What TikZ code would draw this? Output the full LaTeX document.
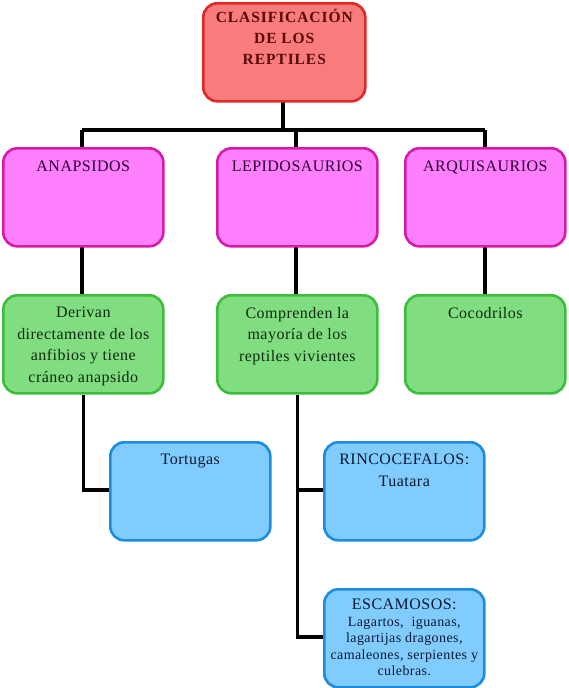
\documentclass[tikz,border=0pt]{standalone}
\usepackage{fontspec}
\setmainfont{Liberation Serif}[LetterSpace=3]
\usetikzlibrary{positioning, calc}
\definecolor{rojofondo}{HTML}{F87C7C}
\definecolor{rojoborde}{HTML}{E02828}
\definecolor{rojotexto}{HTML}{5A0808}
\definecolor{rosafondo}{HTML}{FF80FF}
\definecolor{rosaborde}{HTML}{D41CA8}
\definecolor{rosatexto}{HTML}{2A0030}
\definecolor{verdefondo}{HTML}{80DE80}
\definecolor{verdeborde}{HTML}{3CBE3C}
\definecolor{verdetexto}{HTML}{102810}
\definecolor{azulfondo}{HTML}{80CCFF}
\definecolor{azulborde}{HTML}{1E8CDC}
\definecolor{azultexto}{HTML}{0A1830}
\newcommand{\cajatexto}[2]{\parbox[c][#1][t]{154pt}{\centering #2}}
\tikzset{
  caja/.style={draw, rounded corners=14pt, line width=2.6pt, anchor=north west,
    minimum width=160pt, minimum height=98pt, inner sep=3pt,
    font=\fontsize{16}{21.5}\selectfont},
  cajaroja/.style={caja, fill=rojofondo, draw=rojoborde, text=rojotexto,
    minimum width=162pt, font=\fontsize{15.5}{21}\selectfont\bfseries\addfontfeatures{LetterSpace=6}},
  cajarosa/.style={caja, fill=rosafondo, draw=rosaborde, text=rosatexto},
  cajaverde/.style={caja, fill=verdefondo, draw=verdeborde, text=verdetexto},
  cajaazul/.style={caja, fill=azulfondo, draw=azulborde, text=azultexto},
  conn/.style={line width=3.6pt, black, line join=miter},
}
\begin{document}
\begin{tikzpicture}[x=1pt,y=-1pt]
\useasboundingbox (0,0) rectangle (568,688);

% conectores
\draw[conn] (82,130) -- (485,130);
\draw[conn] (283,99) -- (283,130);
\draw[conn] (82,130) -- (82,294);
\draw[conn] (296,130) -- (296,294);
\draw[conn] (485,130) -- (485,294);

\node[cajaroja] (clasif) at (202,2) {\cajatexto{88pt}{\vspace*{1pt}CLASIFICACIÓN\\DE LOS\\REPTILES}};

\node[cajarosa] (anap) at (2,147) {\cajatexto{90pt}{\vspace*{9pt}ANAPSIDOS}};
\node[cajarosa] (lepido) at (216,147) {\cajatexto{90pt}{\vspace*{9pt}LEPIDOSAURIOS}};
\node[cajarosa] (arqui) at (404,147) {\cajatexto{90pt}{\vspace*{9pt}ARQUISAURIOS}};

\node[cajaverde] (deriv) at (2,294) {\cajatexto{90pt}{\vspace*{8pt}Derivan\\directamente de los\\anfibios y tiene\\cráneo anapsido}};
\node[cajaverde] (compr) at (216,294) {\cajatexto{90pt}{\vspace*{8pt}Comprenden la\\mayoría de los\\reptiles vivientes}};
\node[cajaverde] (cocod) at (404,294) {\cajatexto{90pt}{\vspace*{8pt}Cocodrilos}};

\draw[conn] (deriv.south) |- (109,490);
\draw[conn] (compr.south) |- (323,637);
\draw[conn] (compr.south |- 0,490) -- (323,490);

\node[cajaazul] (tort) at (109,441) {\cajatexto{90pt}{\vspace*{8pt}Tortugas}};
\node[cajaazul] (rinco) at (323,441) {\cajatexto{90pt}{\vspace*{8pt}RINCOCEFALOS:\\Tuatara}};
\node[cajaazul] (escam) at (323,588) {\cajatexto{90pt}{\vspace*{6pt}ESCAMOSOS:\\\fontsize{14}{16.5}\selectfont Lagartos,\ \ iguanas,\\lagartijas dragones,\\camaleones, serpientes y\\culebras.}};

\end{tikzpicture}
\end{document}
